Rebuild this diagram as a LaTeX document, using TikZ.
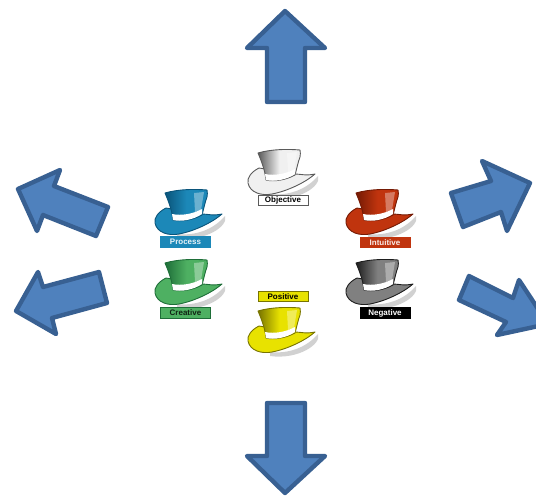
\documentclass[tikz,border=0pt]{standalone}
\usepackage{fontspec}
\setsansfont{Liberation Sans}
\usetikzlibrary{positioning}
\definecolor{arrowfill}{RGB}{79,129,189}
\definecolor{arrowline}{RGB}{56,96,146}
\definecolor{hatblue}{RGB}{28,136,184}
\definecolor{hatbluedk}{RGB}{10,84,122}
\definecolor{hatred}{RGB}{192,52,14}
\definecolor{hatreddk}{RGB}{116,26,4}
\definecolor{hatgreen}{RGB}{78,176,98}
\definecolor{hatgreendk}{RGB}{30,110,56}
\definecolor{hatyellow}{RGB}{232,226,0}
\definecolor{hatyellowdk}{RGB}{120,116,0}
\definecolor{hatwhite}{RGB}{240,240,240}
\definecolor{hatwhitedk}{RGB}{90,90,90}
\definecolor{hatblack}{RGB}{128,128,128}
\definecolor{hatblackdk}{RGB}{30,30,30}
% #1 position, #2 main colour, #3 dark colour
\newcommand{\tophat}[3]{
  \begin{scope}[shift={(#1)}]
    \fill[black!18] (22,44) .. controls (40,46) and (58,40) .. (70,26) .. controls (74,36) and (50,52) .. (22,48) -- cycle;
    \draw[#3, fill=#2, line width=0.9pt, line join=round] (11,18) .. controls (3,22) and (-1,28) .. (0,33) .. controls (2,43) and (14,46) .. (24,44) .. controls (40,41) and (58,32) .. (67,24) .. controls (58,26) and (52,24) .. (47,24) -- cycle;
    \draw[#3, left color=#3, right color=#2, middle color=#2, line width=0.9pt, line join=round] (10,3) .. controls (24,-1) and (40,-1) .. (52,0) .. controls (53,2) and (52,5) .. (52,7) .. controls (50,12) and (49,18) .. (47,25) .. controls (38,30) and (26,32) .. (18,30) .. controls (17,20) and (13,10) .. (10,3) -- cycle;
    \fill[white, opacity=0.35] (39,3) -- (49,2) -- (46,20) -- (40,22) -- cycle;
    \fill[white] (17,24) .. controls (26,26) and (38,24) .. (47,19) -- (47,24) .. controls (38,30) and (26,32) .. (18,30) -- cycle;
  \end{scope}
}
\begin{document}
\begin{tikzpicture}[
  x=1pt, y=-1pt,
  bigarrow/.style={draw=arrowline, fill=arrowfill, line width=4.4pt, line join=round},
  hatlabel/.style={draw, rectangle, minimum width=50pt, minimum height=10.5pt, inner sep=0pt, line width=0.8pt, font=\sffamily\bfseries\fontsize{8}{8}\selectfont}
]
\useasboundingbox (0,0) rectangle (536,498);

% arrows
\draw[bigarrow] (285,11) -- (247,48) -- (267,48) -- (267,102) -- (305,102) -- (305,48) -- (325,48) -- cycle;
\draw[bigarrow] (285,493) -- (247,456) -- (267,456) -- (267,403) -- (305,403) -- (305,456) -- (325,456) -- cycle;
\draw[bigarrow] (530,183) -- (482,161) -- (491,181) -- (451,193) -- (463,227) -- (501,212) -- (507,231) -- cycle;
\draw[bigarrow] (548,324) -- (519,280) -- (513,298) -- (469,276) -- (459,300) -- (506,322) -- (497,335) -- cycle;
\draw[bigarrow] (18,189) -- (60,170) -- (54,186) -- (108,207) -- (96,236) -- (43,215) -- (37,231) -- cycle;
\draw[bigarrow] (16,311) -- (38,272) -- (43,287) -- (99,272) -- (107,303) -- (52,318) -- (56,334) -- cycle;

% hats
\tophat{248,150}{hatwhite}{hatwhitedk}
\tophat{155,190}{hatblue}{hatbluedk}
\tophat{346,190}{hatred}{hatreddk}
\tophat{155,260}{hatgreen}{hatgreendk}
\tophat{346,260}{hatblack}{hatblackdk}
\tophat{248,308}{hatyellow}{hatyellowdk}

% labels
\node[hatlabel, draw=hatwhitedk, fill=white, text=black] (objective) at (283,200.5) {Objective};
\node[hatlabel, draw=hatblue, fill=hatblue, text=white!90!hatblue] (process) at (185.5,242) {Process};
\node[hatlabel, draw=hatred, fill=hatred, text=white!90!hatred] (intuitive) at (385,242.5) {Intuitive};
\node[hatlabel, draw=hatgreendk, fill=hatgreen, text=black!80!hatgreen] (creative) at (185.5,313) {Creative};
\node[hatlabel, draw=black, fill=black, text=white] (negative) at (385,313) {Negative};
\node[hatlabel, draw=hatyellowdk, fill=hatyellow, text=black] (positive) at (283,296.5) {Positive};
\end{tikzpicture}
\end{document}
